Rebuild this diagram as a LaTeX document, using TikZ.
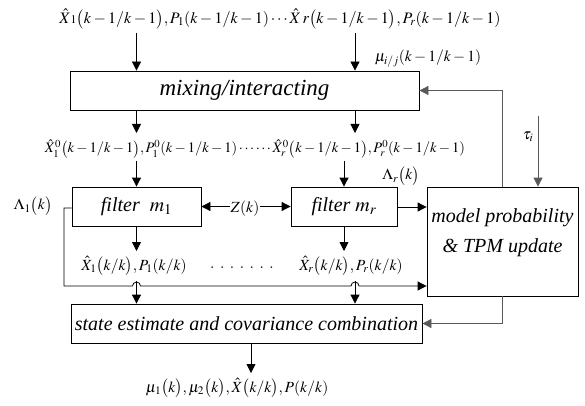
\documentclass[tikz,border=0pt]{standalone}
\usepackage{mathptmx}
\usepackage[no-math]{fontspec}
\setmainfont{Liberation Serif}
\usetikzlibrary{arrows.meta}

\begin{document}
\begin{tikzpicture}[x=1pt,y=-1pt,line width=0.8pt,
  >={Triangle[length=9pt,width=9pt]},
  box/.style={draw,rectangle,inner sep=0pt,font=\fontsize{20}{22}\selectfont\itshape},
  btext/.style={inner sep=0pt,font=\fontsize{20}{22}\selectfont\itshape},
  lbl/.style={inner sep=0pt,font=\fontsize{15.5}{17}\selectfont},
  fb/.style={draw=black!65}]
\useasboundingbox (0,0) rectangle (585,406);

% blocks
\node[box,minimum width=349pt,minimum height=39pt,font=\fontsize{23}{25}\selectfont\itshape] (mix) at (244.5,90.5) {mixing/interacting};
\node[box,minimum width=129pt,minimum height=39pt] (f1) at (136.5,206.5) {filter\ \ $m_1$};
\node[box,minimum width=106pt,minimum height=39pt] (fr) at (344,206.5) {filter\ $m_r$};
\node[box,minimum width=151pt,minimum height=109pt] (mp) at (502.5,241.5) {};
\node[btext] (mpa) at (502.5,218) {model probability};
\node[btext] (mpb) at (502.5,248) {\& TPM update};
\node[box,minimum width=351pt,minimum height=39pt] (comb) at (246.5,323.5) {state estimate and covariance combination};

% signal labels
\node[lbl,font=\fontsize{16}{18}\selectfont] (top) at (280,19) {$\hat{X}{\scriptstyle 1}\bigl(k-1/k-1\bigr),P_1(k-1/k-1)\cdots\hat{X}\,r\bigl(k-1/k-1\bigr),P_r(k-1/k-1)$};
\node[lbl] (mu) at (428,59) {$\mu_{i/j}(k-1/k-1)$};
\node[lbl,font=\fontsize{14.5}{16}\selectfont] (mixed) at (255,149) {$\hat{X}^0_1\bigl(k-1/k-1\bigr),P^0_1(k-1/k-1)\cdots\cdots\hat{X}^0_r\bigl(k-1/k-1\bigr),P^0_r(k-1/k-1)$};
\node[lbl] (lam1) at (33,206) {$\Lambda_1\bigl(k\bigr)$};
\node[lbl] (lamr) at (401,176) {$\Lambda_r\bigl(k\bigr)$};
\node[lbl] (z) at (245,209) {$Z(k)$};
\node[lbl] (tau) at (528,137) {$\tau_i$};
\node[lbl] (est1) at (134,266) {$\hat{X}_1\bigl(k/k\bigr),P_1(k/k)$};
\node[lbl] (dots) at (242,268) {$\cdot\;\cdot\;\cdot\;\cdot\;\cdot\;\cdot\;\cdot$};
\node[lbl] (estr) at (351,266) {$\hat{X}_r\bigl(k/k\bigr),P_r(k/k)$};
\node[lbl] (out) at (237,388) {$\mu_1\bigl(k\bigr),\mu_2\bigl(k\bigr),\hat{X}\bigl(k/k\bigr),P(k/k)$};

% column positions and free ends
\coordinate (cl) at (136.5,0);
\coordinate (cr) at (355,0);
\coordinate (cf) at (344,0);
\coordinate (tA) at (0,33);
\coordinate (mB) at (0,133);
\coordinate (rB) at (0,161);
\coordinate (fB) at (0,251);
\coordinate (eB) at (0,281);
\coordinate (bus) at (0,286);
\coordinate (busx) at (64,0);
\coordinate (fbx) at (502,0);
\coordinate (taux) at (538,0);
\coordinate (tauy) at (0,116);
\coordinate (outx) at (251,0);
\coordinate (outy) at (0,373);

% into and out of the mixing block
\draw[->] (tA -| cl) -- (mix.north -| cl);
\draw[->] (tA -| cr) -- (mix.north -| cr);
\draw[->] (mix.south -| cl) -- (mB -| cl);
\draw[->] (mix.south -| cr) -- (mB -| cr);

% into the filters
\draw[->] (rB -| cl) -- (f1.north -| cl);
\draw[->] (rB -| cf) -- (fr.north -| cf);
\draw[->] (z.west |- f1) -- (f1.east);
\draw[->] (z.east |- fr) -- (fr.west);

% filter outputs
\draw[->] (f1.south -| cl) -- (fB -| cl);
\draw[->] (fr.south -| cf) -- (fB -| cf);
\draw[->] (fr.east |- 0,207) -- (mp.west |- 0,207);

% likelihood bus with hops over the estimate arrows
\draw[->] (f1.west |- 0,208) -- (busx |- 0,208) -- (busx |- bus)
  -- ([xshift=-4pt]bus -| cl) arc[start angle=180,end angle=0,radius=4pt]
  -- ([xshift=-4pt]bus -| cr) arc[start angle=180,end angle=0,radius=4pt]
  -- (mp.west |- bus);

% estimates into the combination block
\draw[->] (eB -| cl) -- (comb.north -| cl);
\draw[->] (eB -| cr) -- (comb.north -| cr);

% model probability feedback
\draw[->,fb] (mp.north -| fbx) -- (fbx |- mix.east) -- (mix.east);
\draw[->,fb] (tauy -| taux) -- (mp.north -| taux);
\draw[->,fb] (mp.south -| fbx) -- (fbx |- comb.east) -- (comb.east);

% combined output
\draw[->] (comb.south -| outx) -- (outy -| outx);
\end{tikzpicture}
\end{document}
